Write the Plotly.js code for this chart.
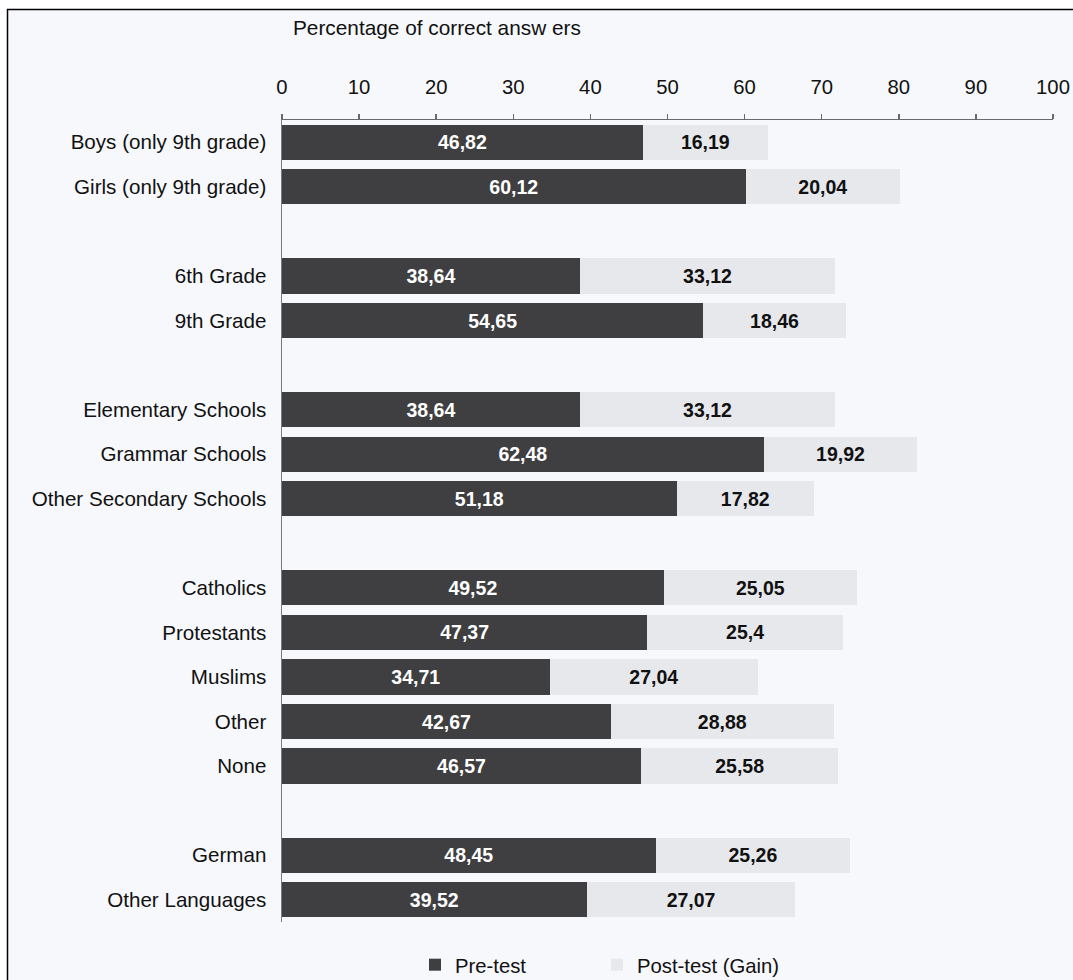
<!DOCTYPE html>
<html>
<head>
<meta charset="utf-8">
<script src="https://cdn.plot.ly/plotly-3.0.1.min.js"></script>
<style>html,body{margin:0;padding:0;background:#fff;}#chart{width:1073px;height:980px;}</style>
</head>
<body>
<div id="chart"></div>
<script>
// Data
var categories = [
  "Boys (only 9th grade)", "Girls (only 9th grade)", " ",
  "6th Grade", "9th Grade", "  ",
  "Elementary Schools", "Grammar Schools", "Other Secondary Schools", "   ",
  "Catholics", "Protestants", "Muslims", "Other", "None", "    ",
  "German", "Other Languages"
];
var preTest = [46.82, 60.12, null, 38.64, 54.65, null, 38.64, 62.48, 51.18, null, 49.52, 47.37, 34.71, 42.67, 46.57, null, 48.45, 39.52];
var postGain = [16.19, 20.04, null, 33.12, 18.46, null, 33.12, 19.92, 17.82, null, 25.05, 25.4, 27.04, 28.88, 25.58, null, 25.26, 27.07];
var seriesNames = ["Pre-test", "Post-test (Gain)"];
var xTicks = [0, 10, 20, 30, 40, 50, 60, 70, 80, 90, 100];
var axisTitle = "Percentage of correct answ ers";

function fmt(v) { return v === null ? "" : String(v).replace(".", ","); }

var FONT = "Liberation Sans, Arial, Helvetica, sans-serif";

var traces = [
  {
    type: "bar", orientation: "h", name: seriesNames[0],
    y: categories, x: preTest,
    text: preTest.map(fmt), textposition: "inside", insidetextanchor: "middle",
    textangle: 0, constraintext: "none",
    textfont: {family: FONT, size: 19.5, color: "#ffffff", weight: "bold"},
    marker: {color: "#3f3f41", line: {width: 0}},
    hoverinfo: "x+y"
  },
  {
    type: "bar", orientation: "h", name: seriesNames[1],
    y: categories, x: postGain,
    text: postGain.map(fmt), textposition: "inside", insidetextanchor: "middle",
    textangle: 0, constraintext: "none",
    textfont: {family: FONT, size: 19.5, color: "#111111", weight: "bold"},
    marker: {color: "#e7e8ec", line: {width: 0}},
    hoverinfo: "x+y"
  }
];

var layout = {
  width: 1073, height: 980,
  margin: {l: 282, r: 20, t: 120, b: 58, pad: 0, autoexpand: false},
  paper_bgcolor: "#ffffff",
  plot_bgcolor: "rgba(0,0,0,0)",
  barmode: "stack",
  bargap: 0.21,
  font: {family: FONT, size: 20, color: "#111111"},
  title: {
    text: axisTitle,
    font: {family: FONT, size: 20.8, color: "#111111"},
    xref: "container", x: 293 / 1073, xanchor: "left",
    yref: "container", y: 1 - 28 / 980, yanchor: "middle"
  },
  xaxis: {
    side: "top", range: [0, 100], tickvals: xTicks, ticktext: xTicks.map(String),
    showgrid: false, zeroline: false,
    showline: true, linecolor: "#6a6a6a", linewidth: 1.5,
    ticks: "outside", ticklen: 5, tickwidth: 1.5, tickcolor: "#6a6a6a",
    ticklabelstandoff: 11,
    tickfont: {family: FONT, size: 20.3, color: "#111111"},
    fixedrange: true
  },
  xaxis2: {
    overlaying: "x", anchor: "y", side: "top", range: [0, 100], tickvals: xTicks,
    showgrid: false, zeroline: false, showline: false, showticklabels: false,
    ticks: "inside", ticklen: 6, tickwidth: 1.5, tickcolor: "#6a6a6a",
    fixedrange: true
  },
  yaxis: {
    type: "category", categoryorder: "array", categoryarray: categories,
    autorange: "reversed",
    showgrid: false, zeroline: false,
    showline: true, linecolor: "#7a7a7a", linewidth: 1.5,
    ticks: "", ticklabelstandoff: 10,
    tickfont: {family: FONT, size: 20.6, color: "#111111"},
    fixedrange: true
  },
  legend: {
    orientation: "h", traceorder: "normal",
    x: (415 - 282) / 771, xanchor: "left",
    y: (922 - 965) / 802, yanchor: "middle",
    font: {family: FONT, size: 20.3, color: "#111111"},
    bgcolor: "rgba(0,0,0,0)",
    entrywidthmode: "pixels", entrywidth: 137
  },
  shapes: [
    {
      type: "rect", xref: "paper", yref: "paper", layer: "below",
      x0: (7.5 - 282) / 771, x1: (1100 - 282) / 771,
      y0: (922 - 1010) / 802, y1: (922 - 9.5) / 802,
      fillcolor: "#f7f8fc", line: {color: "#000000", width: 1.5}
    }
  ],
  showlegend: true
};

Plotly.newPlot("chart", traces, layout, {displayModeBar: false, staticPlot: true});
</script>
</body>
</html>
